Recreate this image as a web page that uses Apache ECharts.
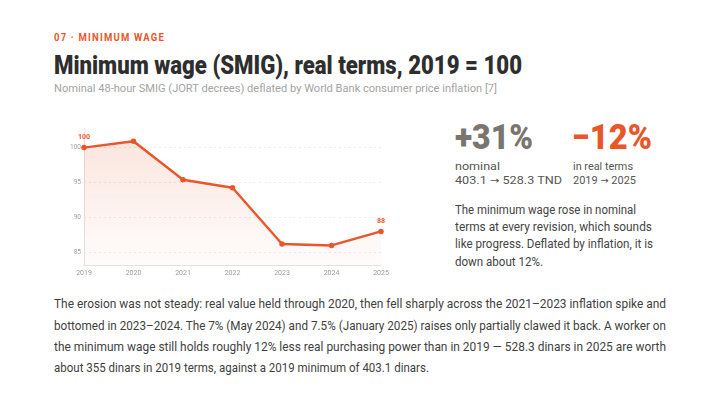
<!DOCTYPE html>
<html><head><meta charset="utf-8">
<script src="https://cdn.jsdelivr.net/npm/echarts@6/dist/echarts.min.js"></script>
<style>
html,body{margin:0;padding:0;width:720px;height:405px;background:#fff;overflow:hidden;font-family:Roboto,"Noto Sans",sans-serif;}
.t{position:absolute;white-space:nowrap;transform-origin:0 50%;line-height:1;}
.ar{font-family:"DejaVu Sans",sans-serif;font-size:0.9em;}
#chart{position:absolute;left:40px;top:110px;width:360px;height:180px;}
</style></head>
<body>
<div class="t" data-w="111" style="left:54px;top:32px;font-size:11px;font-weight:700;letter-spacing:1.4px;color:#e8562a;">07 · MINIMUM WAGE</div>
<div class="t" data-w="468" style="left:54px;top:52px;font-size:26px;font-weight:900;color:#2e2e2e;">Minimum wage (SMIG), real terms, 2019 = 100</div>
<div class="t" data-w="443" style="left:54px;top:83px;font-size:11.5px;color:#a3a3a3;">Nominal 48-hour SMIG (JORT decrees) deflated by World Bank consumer price inflation [7]</div>
<div id="chart"></div>
<div class="t" data-w="78" style="left:455px;top:120px;font-size:35px;font-weight:900;color:#7a756f;">+31%</div>
<div class="t" data-w="80" style="left:572px;top:120px;font-size:35px;font-weight:900;color:#e8562a;">−12%</div>
<div class="t" data-w="45" style="left:455px;top:161px;font-size:11px;color:#555;">nominal</div>
<div class="t" data-w="107" style="left:455px;top:175px;font-size:11px;color:#555;">403.1 <span class="ar">→</span> 528.3 TND</div>
<div class="t" data-w="60" style="left:573px;top:161px;font-size:11px;color:#555;">in real terms</div>
<div class="t" data-w="63" style="left:573px;top:175px;font-size:11px;color:#555;">2019 <span class="ar">→</span> 2025</div>
<div class="t" data-w="181" style="left:455px;top:204px;font-size:12px;color:#444;">The minimum wage rose in nominal</div>
<div class="t" data-w="197" style="left:455px;top:221px;font-size:12px;color:#444;">terms at every revision, which sounds</div>
<div class="t" data-w="198" style="left:455px;top:238px;font-size:12px;color:#444;">like progress. Deflated by inflation, it is</div>
<div class="t" data-w="88" style="left:455px;top:256px;font-size:12px;color:#444;">down about 12%.</div>
<div class="t" data-w="612" style="left:54px;top:297px;font-size:13px;color:#3f3f3f;">The erosion was not steady: real value held through 2020, then fell sharply across the 2021–2023 inflation spike and</div>
<div class="t" data-w="612" style="left:54px;top:319px;font-size:13px;color:#3f3f3f;">bottomed in 2023–2024. The 7% (May 2024) and 7.5% (January 2025) raises only partially clawed it back. A worker on</div>
<div class="t" data-w="612" style="left:54px;top:340px;font-size:13px;color:#3f3f3f;">the minimum wage still holds roughly 12% less real purchasing power than in 2019 — 528.3 dinars in 2025 are worth</div>
<div class="t" data-w="375" style="left:54px;top:361px;font-size:13px;color:#3f3f3f;">about 355 dinars in 2019 terms, against a 2019 minimum of 403.1 dinars.</div>
<script>
const years = ['2019','2020','2021','2022','2023','2024','2025'];
const realIndex = [100, 100.9, 95.4, 94.25, 86.2, 86.0, 88.0];
const labelledPoints = [0, 6];

document.querySelectorAll('.t').forEach(el => {
  const target = parseFloat(el.dataset.w);
  const w = el.getBoundingClientRect().width;
  if (w > 0) el.style.transform = 'scaleX(' + (target / w) + ')';
});

const orange = '#e8562a';
const chart = echarts.init(document.getElementById('chart'), null, {renderer: 'canvas'});
chart.setOption({
  animation: false,
  grid: {left: 44, right: 19, top: 18, bottom: 25},
  xAxis: {
    type: 'category', data: years, boundaryGap: false,
    axisLine: {lineStyle: {color: '#e2e2e2'}},
    axisTick: {show: false},
    axisLabel: {color: '#9a9a9a', fontSize: 7, margin: 5, fontFamily: 'Roboto'}
  },
  yAxis: {
    type: 'value', min: 83.2, max: 102.8, splitNumber: 4,
    axisLine: {show: true, lineStyle: {color: '#e6e6e6'}},
    axisTick: {show: false},
    axisLabel: {color: '#a0a0a0', fontSize: 6.5, margin: 3, showMinLabel: false, showMaxLabel: false, fontFamily: 'Roboto'},
    splitLine: {show: true, showMinLine: false, showMaxLine: false, lineStyle: {color: '#ececec', type: [2, 3], width: 1}}
  },
  series: [{
    type: 'line',
    data: realIndex.map((v, i) => ({
      value: v,
      label: {show: labelledPoints.includes(i)}
    })),
    symbol: 'circle', symbolSize: 5.5,
    lineStyle: {color: orange, width: 2.4},
    itemStyle: {color: orange},
    label: {position: 'top', distance: 4, color: orange, fontSize: 7, fontWeight: 700, fontFamily: 'Roboto',
      formatter: p => Math.round(p.value)},
    areaStyle: {color: new echarts.graphic.LinearGradient(0, 0, 0, 1, [
      {offset: 0, color: 'rgba(232,86,42,0.22)'},
      {offset: 1, color: 'rgba(232,86,42,0.02)'}
    ])}
  }]
});
</script>
</body></html>
